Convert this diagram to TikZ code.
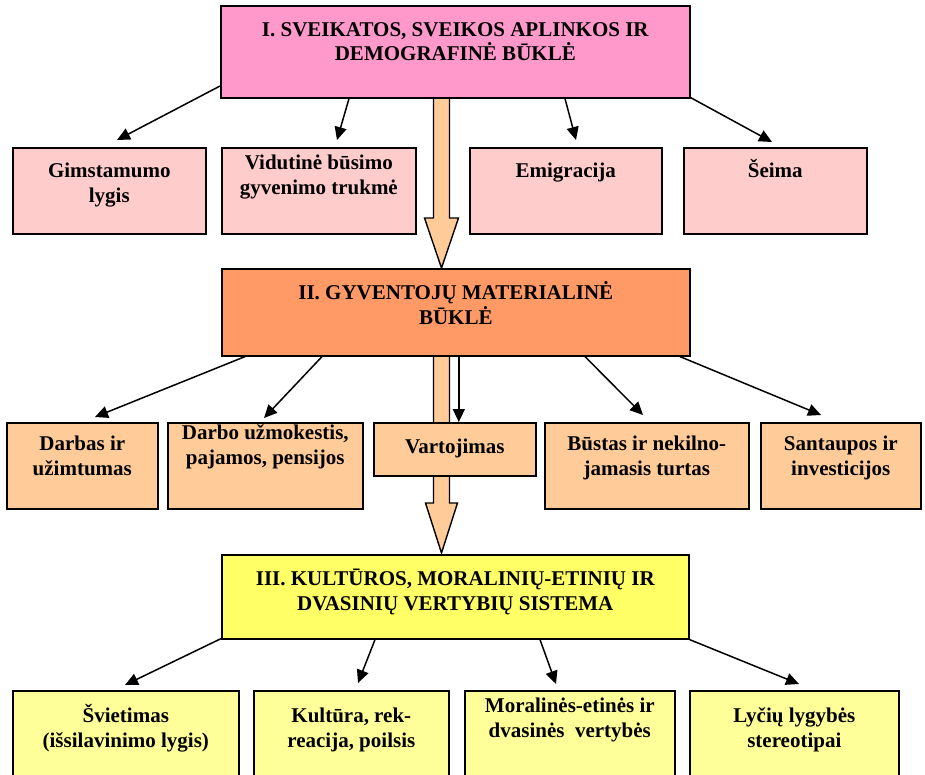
\documentclass[tikz,border=0pt]{standalone}
\usepackage{fontspec}
\setmainfont{Liberation Serif}
\usetikzlibrary{arrows.meta,calc}
\definecolor{cPinkA}{HTML}{FF99CC}
\definecolor{cPinkB}{HTML}{FFCCCC}
\definecolor{cOrA}{HTML}{FF9966}
\definecolor{cOrB}{HTML}{FFCC99}
\definecolor{cYelA}{HTML}{FFFF66}
\definecolor{cYelB}{HTML}{FFFF99}
\begin{document}
\begin{tikzpicture}[x=1pt,y=-1pt,
  box/.style={draw=black,line width=1.6pt,anchor=north west,inner sep=0pt},
  lbl/.style={font=\fontsize{21}{25}\selectfont\bfseries,align=center,anchor=base,inner sep=0pt},
  conn/.style={line width=1.5pt,-{Triangle[length=13pt,width=12pt]}},
  bigarrow/.style={draw=black,line width=1.4pt,fill=cOrB,line join=miter}]
\useasboundingbox (0,0) rectangle (925,774);

% big arrows (drawn first, boxes on top)
\coordinate (ba1s) at (441.5,97);
\coordinate (ba2s) at (441.5,355);
\draw[bigarrow] ($(ba1s)+(-8,0)$) -- ++(0,121) -- ++(-9,0) -- (441.5,268) -- ($(ba1s)+(17,121)$) -- ++(-9,0) -- ($(ba1s)+(8,0)$);
\draw[bigarrow] ($(ba2s)+(-8,0)$) -- ++(0,148) -- ++(-8,0) -- (441.5,553) -- ($(ba2s)+(16,148)$) -- ++(-8,0) -- ($(ba2s)+(8,0)$);

% level I
\node[box,fill=cPinkA,minimum width=469pt,minimum height=92pt] (b1) at (220,5) {};
\node[lbl] (t1) at ($(b1.north)+(0,55)$) {I. SVEIKATOS, SVEIKOS APLINKOS IR\\[-1pt]DEMOGRAFINĖ BŪKLĖ};

\node[box,fill=cPinkB,minimum width=193pt,minimum height=86pt] (g1) at (12,147) {};
\node[box,fill=cPinkB,minimum width=194pt,minimum height=86pt] (g2) at (221,147) {};
\node[box,fill=cPinkB,minimum width=192pt,minimum height=86pt] (g3) at (469,147) {};
\node[box,fill=cPinkB,minimum width=183pt,minimum height=86pt] (g4) at (683,147) {};
\node[lbl] (tg1) at ($(g1.north)+(0,55)$) {Gimstamumo\\lygis};
\node[lbl] (tg2) at ($(g2.north)+(0,47)$) {Vidutinė būsimo\\gyvenimo trukmė};
\node[lbl] (tg3) at ($(g3.north)+(0,30)$) {Emigracija};
\node[lbl] (tg4) at ($(g4.north)+(0,30)$) {Šeima};

% level II
\node[box,fill=cOrA,minimum width=468pt,minimum height=87pt] (b2) at (221,268) {};
\node[lbl] (t2) at ($(b2.north)+(0,56)$) {II. GYVENTOJŲ MATERIALINĖ\\BŪKLĖ};

\node[box,fill=cOrB,minimum width=151pt,minimum height=86pt] (r1) at (6,422) {};
\node[box,fill=cOrB,minimum width=195pt,minimum height=86pt] (r2) at (167,422) {};
\node[box,fill=cOrB,minimum width=162pt,minimum height=53pt] (r3) at (373,422) {};
\node[box,fill=cOrB,minimum width=204pt,minimum height=86pt] (r4) at (544,422) {};
\node[box,fill=cOrB,minimum width=160pt,minimum height=86pt] (r5) at (760,422) {};
\node[lbl] (tr1) at ($(r1.north)+(0,53)$) {Darbas ir\\užimtumas};
\node[lbl] (tr2) at ($(r2.north)+(0,42)$) {Darbo užmokestis,\\pajamos, pensijos};
\node[lbl] (tr3) at ($(r3.north)+(0,31)$) {Vartojimas};
\node[lbl] (tr4) at ($(r4.north)+(0,53)$) {Būstas ir nekilno-\\jamasis turtas};
\node[lbl] (tr5) at ($(r5.north)+(0,53)$) {Santaupos ir\\investicijos};

% level III
\node[box,fill=cYelA,minimum width=467pt,minimum height=84pt] (b3) at (221,554) {};
\node[lbl] (t3) at ($(b3.north)+(0,56)$) {III. KULTŪROS, MORALINIŲ-ETINIŲ IR\\DVASINIŲ VERTYBIŲ SISTEMA};

\node[box,fill=cYelB,minimum width=226pt,minimum height=100pt] (y1) at (12,690) {};
\node[box,fill=cYelB,minimum width=195pt,minimum height=100pt] (y2) at (253,690) {};
\node[box,fill=cYelB,minimum width=210pt,minimum height=100pt] (y3) at (464,690) {};
\node[box,fill=cYelB,minimum width=209pt,minimum height=100pt] (y4) at (689,690) {};
\node[lbl] (ty1) at ($(y1.north)+(0,57)$) {Švietimas\\(išsilavinimo lygis)};
\node[lbl] (ty2) at ($(y2.north)+(0,57)$) {Kultūra, rek-\\reacija, poilsis};
\node[lbl] (ty3) at ($(y3.north)+(0,47)$) {Moralinės-etinės ir\\dvasinės\ \ vertybės};
\node[lbl] (ty4) at ($(y4.north)+(0,57)$) {Lyčių lygybės\\stereotipai};

% connectors level I
\draw[conn] ($(b1.north west)+(0,81)$) -- ($(g1.north west)+(105,-7)$);
\draw[conn] ($(b1.south west)+(129,0)$) -- ($(g2.north west)+(116,-7)$);
\draw[conn] ($(b1.south west)+(345,0)$) -- ($(g3.north west)+(107,-7)$);
\draw[conn] ($(b1.south east)+(0,-1)$) -- ($(g4.north west)+(89,-5)$);
% connectors level II
\draw[conn] ($(b2.south west)+(24,0)$) -- ($(r1.north west)+(89,-5)$);
\draw[conn] ($(b2.south west)+(101,0)$) -- ($(r2.north west)+(97,-4)$);
\draw[conn] ([xshift=3pt]b2.south) -- ([xshift=3pt]b2.south |- r3.north);
\draw[conn] ($(b2.south west)+(364,0)$) -- ($(r4.north west)+(99,-7)$);
\draw[conn] ($(b2.south west)+(459,0)$) -- ($(r5.north west)+(61,-7)$);
% connectors level III
\draw[conn] ($(b3.south west)+(0,-1)$) -- ($(y1.north west)+(113,-5)$);
\draw[conn] ($(b3.south west)+(154,0)$) -- ($(y2.north west)+(105,-7)$);
\draw[conn] ($(b3.south west)+(319,0)$) -- ($(y3.north west)+(92,-6)$);
\draw[conn] (b3.south east) -- ($(y4.north west)+(110,-6)$);
\end{tikzpicture}
\end{document}
